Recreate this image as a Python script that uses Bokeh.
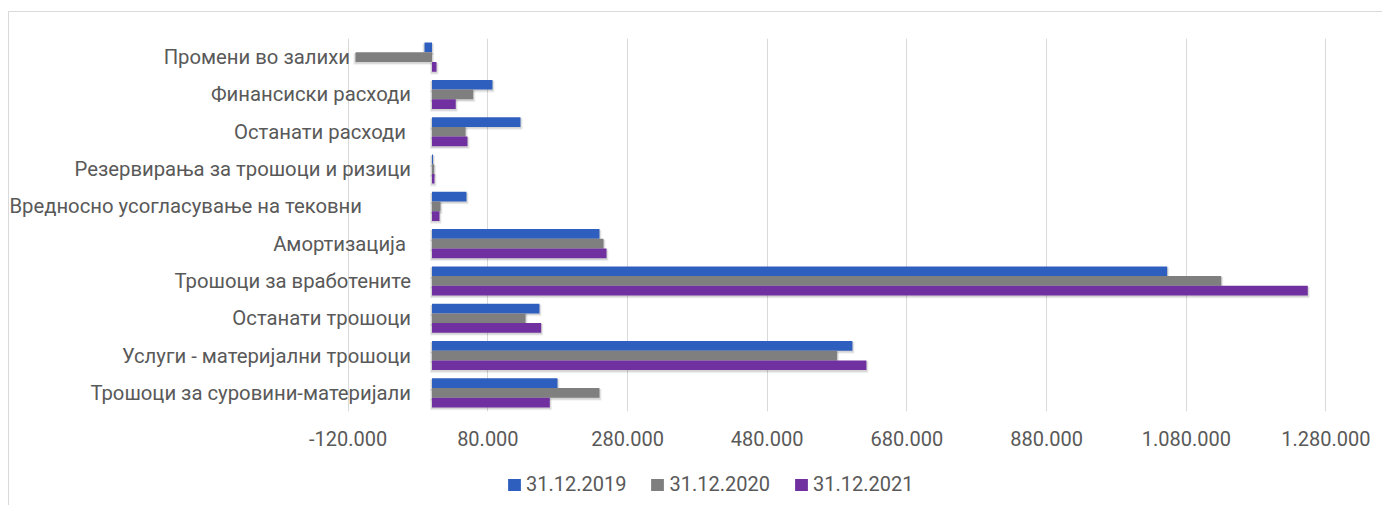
from bokeh.plotting import figure
from bokeh.layouts import column
from bokeh.models import Range1d, FixedTicker, ColumnDataSource, Legend, LegendItem
from bokeh.transform import dodge
from bokeh.core.properties import value
from bokeh.embed import file_html
from bokeh.resources import INLINE
import numpy as np

# ---- data (bottom -> top) ----
categories = [
    "Трошоци за суровини-материјали",
    "Услуги - материјални трошоци",
    "Останати трошоци",
    "Трошоци за вработените",
    "Амортизација ",
    "Вредносно усогласување на тековни",
    "Резервирања за трошоци и ризици",
    "Останати расходи ",
    "Финансиски расходи",
    "Промени во залихи",
]
v2019 = [179700, 602000, 153900, 1052700, 239800, 49400, 1500, 126700, 86600, -10700]
v2020 = [239800, 580000, 133900, 1130000, 245600, 12200, 3000, 48000, 59000, -109500]
v2021 = [168700, 622000, 156300, 1254000, 249900, 10700, 3500, 50800, 34000, 6400]
series_names = ["31.12.2019", "31.12.2020", "31.12.2021"]
tick_values = [-120000, 80000, 280000, 480000, 680000, 880000, 1080000, 1280000]
tick_labels = ["-120.000", "80.000", "280.000", "480.000", "680.000", "880.000",
               "1.080.000", "1.280.000"]

# ---- style ----
colors = ["#2E5FBE", "#7F7F7F", "#7030A0"]
FONT = "Roboto"
TXT = "#595959"
BORDER = "1px solid #D9D9D9"
W, H1, H2 = 1374, 454, 40
PX_PER_UNIT = 0.6984 / 1000.0
page_left, zero_page = 9.0, 431.5
x_start = (page_left - zero_page) / PX_PER_UNIT
x_end = (page_left + W - zero_page) / PX_PER_UNIT
label_shift = [0, 0, 0, 0, 0, -49, 0, 0, 0, -61]

p = figure(width=W, height=H1, output_backend="svg", toolbar_location=None,
           x_range=Range1d(x_start, x_end), y_range=Range1d(-0.5, len(categories) - 0.5),
           y_axis_location=None, min_border_left=0, min_border_right=0,
           min_border_top=26, min_border_bottom=55)
p.styles = {"border-top": BORDER, "border-left": BORDER}
p.outline_line_color = None
p.background_fill_color = "white"
p.border_fill_color = "white"
p.ygrid.visible = False
p.xgrid.grid_line_color = "#D9D9D9"
p.xgrid.grid_line_width = 1

ax = p.xaxis[0]
ax.ticker = FixedTicker(ticks=tick_values, minor_ticks=[])
ax.major_label_overrides = {t: l for t, l in zip(tick_values, tick_labels)}
ax.axis_line_color = None
ax.major_tick_line_color = None
ax.minor_tick_line_color = None
ax.major_label_text_font = FONT
ax.major_label_text_font_size = "20px"
ax.major_label_text_color = TXT
ax.major_label_standoff = 13

ys = np.arange(len(categories))
offsets = [0.26, 0.0, -0.26]
bar_h = 0.26
dx = 2.0 / PX_PER_UNIT
series = [v2019, v2020, v2021]

sources = []
for vals in series:
    v = np.array(vals, dtype=float)
    sources.append(ColumnDataSource(dict(y=ys, v=v, lo=np.minimum(0, v), hi=np.maximum(0, v))))

# soft drop shadows
for src, off in zip(sources, offsets):
    src.data["slo1"] = src.data["lo"] - dx
    src.data["shi1"] = src.data["hi"] + dx
    src.data["slo2"] = src.data["lo"] - dx / 2
    src.data["shi2"] = src.data["hi"] + dx / 2
    p.hbar(y=dodge("y", off - 0.05, range=p.y_range), left="slo1", right="shi1", height=bar_h + 0.05,
           source=src, fill_color="black", fill_alpha=0.07, line_color=None)
    p.hbar(y=dodge("y", off - 0.035, range=p.y_range), left="slo2", right="shi2", height=bar_h + 0.02,
           source=src, fill_color="black", fill_alpha=0.10, line_color=None)

for src, off, c in zip(sources, offsets, colors):
    p.hbar(y=dodge("y", off, range=p.y_range), left=0, right="v", height=bar_h,
           source=src, fill_color=c, line_color=None)

lab_src = ColumnDataSource(dict(y=ys, label=categories,
                                dxo=[-21 + s for s in label_shift]))
p.text(x=0, y="y", text="label", source=lab_src, x_offset="dxo",
       text_align="right", text_baseline="middle", text_font=value(FONT),
       text_font_size="20.3px", text_color=TXT)

# ---- legend strip (same series, outside its visible ranges; only the keys show) ----
p2 = figure(width=W, height=H2, output_backend="svg", toolbar_location=None,
            x_range=Range1d(-2, -1), y_range=Range1d(-30, -29),
            x_axis_location=None, y_axis_location=None,
            min_border_left=0, min_border_right=0, min_border_top=0, min_border_bottom=0)
p2.styles = {"border-left": BORDER}
p2.outline_line_color = None
p2.grid.visible = False
p2.background_fill_color = "white"
p2.border_fill_color = "white"
keys = [p2.hbar(y="y", left=0, right="hi", height=bar_h, source=src, fill_color=c, line_color=None)
        for src, c in zip(sources, colors)]

legend = Legend(items=[LegendItem(label=n, renderers=[r]) for n, r in zip(series_names, keys)],
                orientation="horizontal", location=(497, 9))
legend.padding = 0
legend.margin = 0
legend.spacing = 23
legend.label_standoff = 4
legend.glyph_width = 16
legend.glyph_height = 15
legend.border_line_color = None
legend.background_fill_alpha = 0
legend.label_text_font = FONT
legend.label_text_font_size = "20px"
legend.label_text_color = TXT
p2.add_layout(legend)

layout = column(p, p2, spacing=0)
layout.styles = {"position": "relative", "left": "8px", "top": "11px"}

open("out.html", "w").write(file_html(layout, INLINE))
